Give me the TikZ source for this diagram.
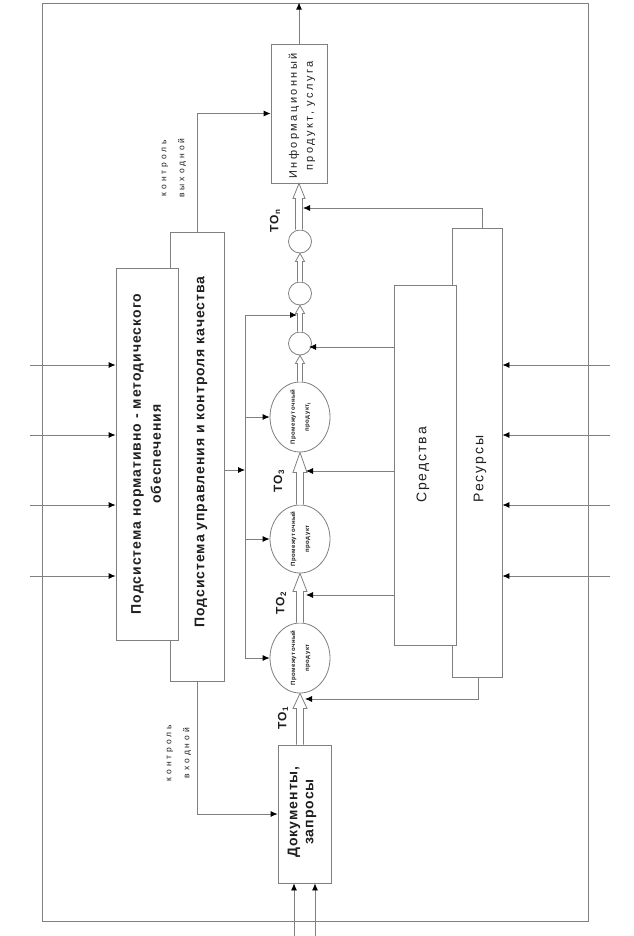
\documentclass[tikz,border=0pt]{standalone}
\usepackage{fontspec}
\setmainfont{Liberation Sans}
\newfontfamily\fA[LetterSpace=7]{Liberation Sans}
\newfontfamily\fT[LetterSpace=10]{Liberation Sans}
\newfontfamily\fB[LetterSpace=22]{Liberation Sans}
\newfontfamily\fC[LetterSpace=35]{Liberation Sans}
\newfontfamily\fD[LetterSpace=8]{Liberation Sans}
\newfontfamily\fE[LetterSpace=14]{Liberation Sans}
\usetikzlibrary{arrows.meta,calc,shapes.geometric}
\definecolor{lc}{gray}{0.5}
\definecolor{tc}{gray}{0.12}
\newcommand\hollowar[5]{%
  \draw[hollow] let \p1=(#1), \p2=(#2) in
   (\x2-#5pt,\y1) -- (\x2-#5pt,\y2-#3pt) -- (\x2-#4pt,\y2-#3pt) -- (\x2,\y2)
   -- (\x2+#4pt,\y2-#3pt) -- (\x2+#5pt,\y2-#3pt) -- (\x2+#5pt,\y1);}
\begin{document}
\begin{tikzpicture}[x=1pt,y=-1pt,
  box/.style={draw=lc, line width=0.8pt, fill=white, inner sep=0pt},
  oval/.style={draw=lc, line width=0.8pt, fill=white, ellipse, inner sep=0pt},
  conn/.style={draw=lc, line width=0.8pt, -{Latex[length=7pt,width=6pt,color=black]}},
  plain/.style={draw=lc, line width=0.8pt},
  hollow/.style={draw=lc, line width=0.8pt, fill=white},
  rtext/.style={rotate=90, text=tc, align=center, inner sep=0pt}]
\useasboundingbox (0,0) rectangle (633,936);
\fill[white] (0,0) rectangle (633,936);
% frame
\node[box, fill=none, minimum width=546pt, minimum height=918pt] (frame) at (315,462) {};
% boxes
\node[box, minimum width=54pt, minimum height=449pt] (ctrl) at (197,456.5) {};
\node[box, minimum width=62pt, minimum height=372pt] (norm) at (147,454) {};
\node[box, minimum width=50pt, minimum height=449pt] (res) at (477,452.5) {};
\node[box, minimum width=62pt, minimum height=360pt] (sred) at (425,465) {};
\node[box, minimum width=56pt, minimum height=139pt] (info) at (299,113.5) {};
\node[box, minimum width=53pt, minimum height=138pt] (doc) at (304.5,814) {};
% ellipses and circles
\node[oval, minimum width=60pt, minimum height=70pt] (e1) at (300,658) {};
\node[oval, minimum width=60pt, minimum height=68pt] (e2) at (300,539) {};
\node[oval, minimum width=60pt, minimum height=70pt] (e3) at (300,417) {};
\node[oval, minimum width=23pt, minimum height=23pt] (cC) at (300,343.5) {};
\node[oval, minimum width=23pt, minimum height=23pt] (cB) at (300,293.5) {};
\node[oval, minimum width=23pt, minimum height=23pt] (cA) at (300,241.5) {};
% hollow flow arrows
\hollowar{doc.north}{e1.south}{15}{7}{3.5}
\hollowar{e1.north}{e2.south}{18}{7}{3.5}
\hollowar{e2.north}{e3.south}{20}{7}{3.5}
\hollowar{e3.north}{cC.south}{8}{4.5}{2.5}
\hollowar{cC.north}{cB.south}{8}{4.5}{2.5}
\hollowar{cB.north}{cA.south}{8}{4.5}{2.5}
\hollowar{cA.north}{info.south}{15}{6}{3.5}
% coordinates
\coordinate (bt) at (245,315);
\coordinate (bj) at (245,470);
\coordinate (sBC) at (297,315);
\coordinate (tC) at (309,347);
\coordinate (t3) at (306,471);
\coordinate (t2) at (306,595);
\coordinate (tn) at (303,208);
\coordinate (t1) at (305,699);
\coordinate (L1) at (30,365);
\coordinate (L2) at (30,435);
\coordinate (L3) at (30,505);
\coordinate (L4) at (30,576);
\coordinate (R1) at (610,365);
\coordinate (R2) at (610,435);
\coordinate (R3) at (610,505);
\coordinate (R4) at (610,576);
\coordinate (B1) at (294,936);
\coordinate (B2) at (315,936);
% connectors
\draw[conn] (info.north) -- (info.north |- frame.north);
\draw[conn] (ctrl.north) |- (info.west);
\draw[conn] (ctrl.south) |- (doc.west);
\draw[conn] (B1) -- (B1 |- doc.south);
\draw[conn] (B2) -- (B2 |- doc.south);
\foreach \p in {L1,L2,L3,L4} \draw[conn] (\p) -- (\p -| norm.west);
\foreach \p in {R1,R2,R3,R4} \draw[conn] (\p) -- (\p -| res.east);
\draw[conn] (ctrl.east |- bj) -- (bj);
\draw[plain] (bt) -- (e1.west -| bt);
\draw[conn] (bt) -- (sBC);
\draw[conn] (e3.west -| bt) -- (e3.west);
\draw[conn] (e2.west -| bt) -- (e2.west);
\draw[conn] (e1.west -| bt) -- (e1.west);
\draw[conn] (sred.west |- tC) -- (tC);
\draw[conn] (sred.west |- t3) -- (t3);
\draw[conn] (sred.west |- t2) -- (t2);
\draw[conn] ([xshift=5pt]res.north) |- (tn);
\draw[conn] ([xshift=1pt]res.south) |- (t1);
% texts
\node[rtext, font=\fA\bfseries\fontsize{14}{20}\selectfont] (normtext) at (146,454) {Подсистема нормативно - методического\\обеспечения};
\node[rtext, font=\fA\bfseries\fontsize{14}{16}\selectfont] (ctrltext) at (201,452) {Подсистема управления и контроля качества};
\node[rtext, font=\fE\fontsize{14}{16}\selectfont] (sredtext) at (423,465) {Средства};
\node[rtext, font=\fE\fontsize{14}{16}\selectfont] (restext) at (480,469) {Ресурсы};
\node[rtext, font=\fA\bfseries\fontsize{14}{16}\selectfont] (doctext) at (302,812) {Документы,\\запросы};
\node[rtext, font=\fB\fontsize{11}{16}\selectfont] (infotext) at (302,116) {Информационный\\продукт, услуга};
\node[rtext, font=\fC\fontsize{8.5}{18}\selectfont] (kout) at (174,168) {контроль\\выходной};
\node[rtext, font=\fC\fontsize{8.5}{18}\selectfont] (kin) at (179,753) {контроль\\входной};
\node[rtext, font=\fD\bfseries\fontsize{6}{14}\selectfont] (e1text) at (300.5,658) {Промежуточный\\продукт};
\node[rtext, font=\fD\bfseries\fontsize{6}{14}\selectfont] (e2text) at (300.5,539) {Промежуточный\\продукт};
\node[rtext, font=\fD\bfseries\fontsize{6}{14}\selectfont] (e3text) at (300.5,417) {Промежуточный\\продукт\textsubscript{i}};
\node[rtext, font=\fT\bfseries\fontsize{12}{14}\selectfont] (to1) at (283,718) {ТО\textsubscript{1}};
\node[rtext, font=\fT\bfseries\fontsize{12}{14}\selectfont] (to2) at (281,603) {ТО\textsubscript{2}};
\node[rtext, font=\fT\bfseries\fontsize{12}{14}\selectfont] (to3) at (279,481) {ТО\textsubscript{3}};
\node[rtext, font=\fT\bfseries\fontsize{12}{14}\selectfont] (ton) at (275,221) {ТО\textsubscript{n}};
\end{tikzpicture}
\end{document}
